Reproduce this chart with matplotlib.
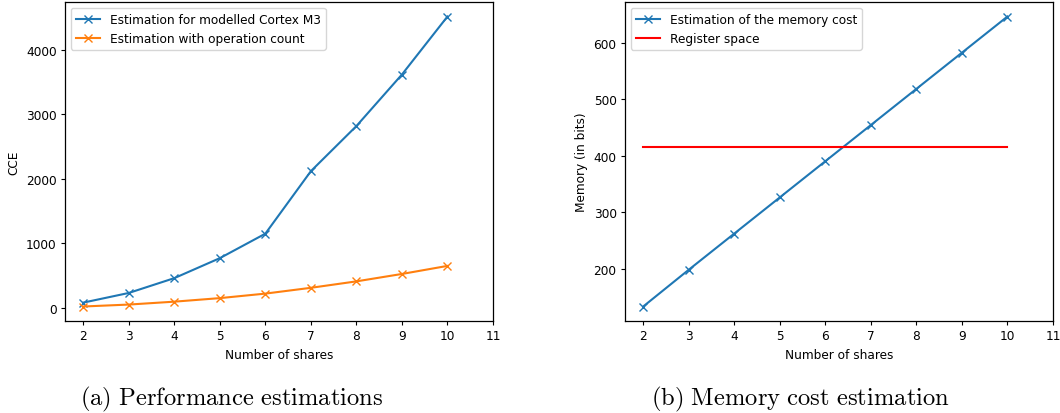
import matplotlib
matplotlib.use("Agg")
import matplotlib.pyplot as plt

shares = [2, 3, 4, 5, 6, 7, 8, 9, 10]
cce_cortex = [80, 230, 460, 770, 1150, 2120, 2820, 3620, 4520]
cce_opcount = [20, 50, 95, 150, 220, 310, 410, 525, 650]
memory_cost = [133, 198, 262, 326, 390, 454, 518, 582, 646]
register_space = 416
xticks = [2, 3, 4, 5, 6, 7, 8, 9, 10, 11]

plt.rcParams['mathtext.fontset'] = 'cm'
fs = 8.7
s = 0.87
plt.rcParams['lines.linewidth'] = 1.5
plt.rcParams['lines.markersize'] = 6
plt.rcParams['axes.linewidth'] = 0.9
plt.rcParams['xtick.major.size'] = 3.5 * s
plt.rcParams['ytick.major.size'] = 3.5 * s
plt.rcParams['xtick.major.pad'] = 3.5 * s
plt.rcParams['ytick.major.pad'] = 3.5 * s

fig = plt.figure(figsize=(10.6, 4.14), dpi=100)
ax1 = fig.add_axes([65/1060, 92/414, 428/1060, 319/414])
ax2 = fig.add_axes([625/1060, 92/414, 428/1060, 319/414])

ax1.plot(shares, cce_cortex, marker='x', color='#1f77b4', label='Estimation for modelled Cortex M3')
ax1.plot(shares, cce_opcount, marker='x', color='#ff7f0e', label='Estimation with operation count')
ax1.set_xticks(xticks)
ax1.set_xlim(1.6, 11)
ax1.set_ylabel('CCE', fontsize=fs)
ax1.set_xlabel('Number of shares', fontsize=fs)
ax1.tick_params(labelsize=fs)
ax1.legend(loc='upper left', fontsize=fs)

ax2.plot(shares, memory_cost, marker='x', color='#1f77b4', label='Estimation of the memory cost')
ax2.plot([shares[0], shares[-1]], [register_space, register_space], color='red', label='Register space')
ax2.set_xticks(xticks)
ax2.set_xlim(1.6, 11)
ax2.set_ylim(107.35, 671.65)
ax2.set_ylabel('Memory (in bits)', fontsize=fs)
ax2.set_xlabel('Number of shares', fontsize=fs)
ax2.tick_params(labelsize=fs)
ax2.legend(loc='upper left', fontsize=fs)

fig.text(232/1060, 1 - 399/414, r'$\mathrm{(a)\ Performance\ estimations}$', ha='center', va='center', fontsize=17.7)
fig.text(800/1060, 1 - 399/414, r'$\mathrm{(b)\ Memory\ cost\ estimation}$', ha='center', va='center', fontsize=17.7)

fig.savefig('out.png', dpi=100)
